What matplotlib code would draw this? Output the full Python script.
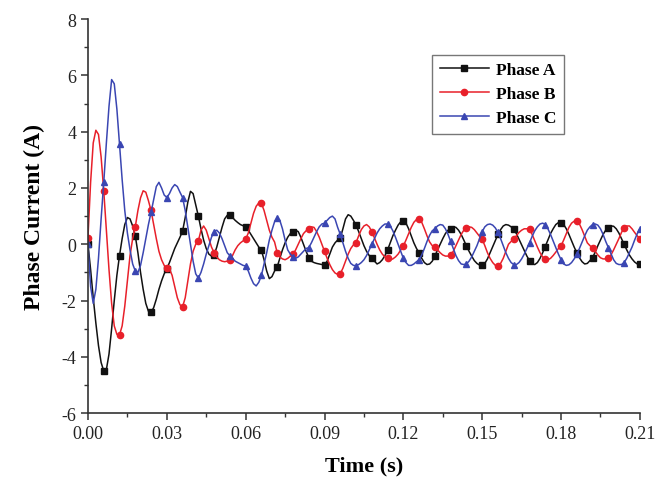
import numpy as np
import matplotlib
matplotlib.use("Agg")
import matplotlib.pyplot as plt
from matplotlib.ticker import MultipleLocator, FormatStrFormatter

# time axis: one sample per millisecond, 0 .. 210 ms
time_ms = np.arange(0, 211)

phase_a = [
    0.0, -0.9, -1.9, -2.8, -3.6, -4.2, -4.5, -4.45, -3.9, -3.0,
    -2.0, -1.1, -0.4, 0.2, 0.7, 0.95, 0.9, 0.65, 0.3, -0.3,
    -1.0, -1.6, -2.1, -2.38, -2.42, -2.25, -1.95, -1.6, -1.3, -1.05,
    -0.87, -0.65, -0.4, -0.15, 0.05, 0.25, 0.47, 0.95, 1.5, 1.88,
    1.8, 1.4, 1.0, 0.55, 0.15, -0.15, -0.35, -0.42, -0.38, -0.1,
    0.25, 0.6, 0.9, 1.03, 1.03, 0.95, 0.85, 0.77, 0.7, 0.66,
    0.62, 0.5, 0.35, 0.2, 0.05, -0.1, -0.22, -0.55, -0.95, -1.22,
    -1.15, -0.95, -0.8, -0.5, -0.2, 0.05, 0.25, 0.38, 0.42, 0.5,
    0.45, 0.25, 0.0, -0.25, -0.47, -0.6, -0.65, -0.68, -0.7, -0.72,
    -0.73, -0.6, -0.35, -0.1, 0.05, 0.15, 0.22, 0.55, 0.9, 1.05,
    1.0, 0.85, 0.68, 0.45, 0.2, -0.05, -0.25, -0.4, -0.48, -0.6,
    -0.7, -0.65, -0.55, -0.4, -0.2, 0.05, 0.3, 0.5, 0.68, 0.8,
    0.83, 0.75, 0.55, 0.3, 0.05, -0.15, -0.3, -0.5, -0.65, -0.72,
    -0.7, -0.6, -0.42, -0.2, 0.0, 0.2, 0.38, 0.5, 0.56, 0.62,
    0.6, 0.5, 0.35, 0.15, -0.06, -0.25, -0.42, -0.58, -0.68, -0.74,
    -0.75, -0.68, -0.52, -0.3, -0.08, 0.15, 0.35, 0.52, 0.65, 0.7,
    0.68, 0.62, 0.53, 0.38, 0.18, -0.02, -0.22, -0.42, -0.58, -0.7,
    -0.72, -0.65, -0.5, -0.3, -0.08, 0.15, 0.38, 0.55, 0.7, 0.77,
    0.77, 0.7, 0.55, 0.35, 0.12, -0.1, -0.3, -0.48, -0.62, -0.7,
    -0.68, -0.58, -0.47, -0.28, -0.05, 0.15, 0.35, 0.5, 0.59, 0.65,
    0.64, 0.55, 0.4, 0.2, 0.0, -0.2, -0.38, -0.52, -0.63, -0.7,
    -0.71,
]

phase_b = [
    0.24, 2.2, 3.6, 4.05, 3.9, 3.1, 1.9, 0.5, -0.9, -2.1,
    -2.9, -3.2, -3.22, -2.9, -2.2, -1.3, -0.4, 0.2, 0.62, 1.2,
    1.65, 1.9, 1.85, 1.55, 1.2, 0.7, 0.2, -0.25, -0.55, -0.75,
    -0.86, -0.88, -1.1, -1.5, -1.9, -2.15, -2.22, -1.9, -1.3, -0.7,
    -0.25, 0.0, 0.12, 0.5, 0.65, 0.5, 0.2, -0.1, -0.3, -0.45,
    -0.55, -0.6, -0.62, -0.6, -0.55, -0.4, -0.2, -0.05, 0.05, 0.12,
    0.18, 0.4, 0.75, 1.1, 1.35, 1.47, 1.45, 1.2, 0.85, 0.5,
    0.25, 0.08, -0.3, -0.45, -0.52, -0.55, -0.5, -0.42, -0.36, -0.2,
    0.0, 0.2, 0.38, 0.48, 0.55, 0.62, 0.6, 0.45, 0.25, 0.0,
    -0.24, -0.5, -0.72, -0.9, -1.02, -1.07, -1.05, -0.85, -0.6, -0.35,
    -0.15, -0.02, 0.06, 0.3, 0.52, 0.65, 0.7, 0.62, 0.45, 0.22,
    0.0, -0.2, -0.35, -0.45, -0.5, -0.55, -0.52, -0.45, -0.35, -0.2,
    -0.06, 0.15, 0.38, 0.6, 0.78, 0.88, 0.89, 0.78, 0.55, 0.3,
    0.08, -0.05, -0.1, -0.2, -0.3, -0.38, -0.42, -0.42, -0.38, -0.25,
    -0.05, 0.15, 0.35, 0.5, 0.59, 0.62, 0.6, 0.52, 0.4, 0.28,
    0.18, -0.05, -0.3, -0.5, -0.65, -0.75, -0.77, -0.68, -0.5, -0.25,
    0.0, 0.1, 0.18, 0.3, 0.42, 0.5, 0.55, 0.55, 0.53, 0.35,
    0.12, -0.1, -0.3, -0.45, -0.53, -0.55, -0.5, -0.4, -0.28, -0.15,
    -0.06, 0.15, 0.38, 0.6, 0.75, 0.82, 0.83, 0.72, 0.52, 0.28,
    0.05, -0.05, -0.12, -0.25, -0.38, -0.48, -0.52, -0.52, -0.5, -0.38,
    -0.2, 0.0, 0.2, 0.42, 0.59, 0.65, 0.65, 0.55, 0.42, 0.3,
    0.2,
]

phase_c = [
    0.0, -1.5, -2.1, -1.6, -0.5, 0.9, 2.2, 3.6, 4.9, 5.85,
    5.7, 4.8, 3.55, 2.3, 1.2, 0.4, -0.2, -0.7, -0.95, -1.0,
    -0.75, -0.3, 0.2, 0.7, 1.13, 1.6, 2.05, 2.2, 2.0, 1.75,
    1.66, 1.8, 2.0, 2.12, 2.05, 1.85, 1.66, 1.2, 0.6, 0.0,
    -0.6, -1.05, -1.2, -1.0, -0.7, -0.35, -0.05, 0.25, 0.45, 0.5,
    0.4, 0.2, -0.05, -0.3, -0.41, -0.5, -0.6, -0.65, -0.7, -0.75,
    -0.77, -0.95, -1.2, -1.4, -1.48, -1.35, -1.1, -0.7, -0.3, 0.15,
    0.5, 0.8, 0.92, 0.85, 0.55, 0.15, -0.2, -0.35, -0.45, -0.5,
    -0.45, -0.35, -0.25, -0.15, -0.12, 0.05, 0.25, 0.45, 0.62, 0.72,
    0.75, 0.85, 0.95, 1.0, 0.9, 0.6, 0.35, 0.05, -0.25, -0.5,
    -0.68, -0.75, -0.76, -0.72, -0.65, -0.55, -0.4, -0.2, 0.0, 0.2,
    0.4, 0.55, 0.65, 0.72, 0.72, 0.65, 0.48, 0.25, 0.0, -0.25,
    -0.5, -0.65, -0.75, -0.75, -0.7, -0.62, -0.55, -0.38, -0.15, 0.1,
    0.32, 0.48, 0.55, 0.65, 0.7, 0.68, 0.55, 0.35, 0.1, -0.15,
    -0.4, -0.58, -0.7, -0.72, -0.7, -0.6, -0.45, -0.25, -0.05, 0.2,
    0.45, 0.62, 0.7, 0.72, 0.68, 0.58, 0.42, 0.2, -0.05, -0.3,
    -0.5, -0.65, -0.72, -0.72, -0.65, -0.52, -0.35, -0.15, 0.05, 0.28,
    0.48, 0.62, 0.72, 0.75, 0.7, 0.55, 0.35, 0.12, -0.12, -0.35,
    -0.55, -0.7, -0.75, -0.73, -0.65, -0.52, -0.35, -0.15, 0.08, 0.3,
    0.5, 0.62, 0.7, 0.72, 0.68, 0.55, 0.35, 0.1, -0.12, -0.35,
    -0.55, -0.68, -0.72, -0.72, -0.65, -0.5, -0.3, -0.1, 0.15, 0.38,
    0.55,
]

series_names = ["Phase A", "Phase B", "Phase C"]
series_colors = ["#111111", "#e8202a", "#3a46b2"]
series_markers = ["s", "o", "^"]

plt.rcParams["font.family"] = "Liberation Serif"
plt.rcParams["axes.unicode_minus"] = False

fig = plt.figure(figsize=(6.59, 4.89), dpi=100)
ax = fig.add_axes([0.1335, 0.153, 0.8375, 0.806])

t = time_ms / 1000.0
for vals, name, col, mk in zip([phase_a, phase_b, phase_c], series_names,
                               series_colors, series_markers):
    ax.plot(t, vals, color=col, lw=1.1, marker=mk, markevery=6,
            markersize=4.5, label=name)

ax.set_xlim(0, 0.21)
ax.set_ylim(-6, 8)
ax.xaxis.set_major_locator(MultipleLocator(0.03))
ax.xaxis.set_minor_locator(MultipleLocator(0.015))
ax.xaxis.set_major_formatter(FormatStrFormatter("%.2f"))
ax.yaxis.set_major_locator(MultipleLocator(2))
ax.yaxis.set_minor_locator(MultipleLocator(1))

for side in ["top", "right"]:
    ax.spines[side].set_visible(False)
for side in ["left", "bottom"]:
    ax.spines[side].set_linewidth(1.2)
    ax.spines[side].set_color("#333333")

ax.tick_params(which="major", direction="out", length=5, width=1.1,
               labelsize=13, colors="#333333", labelcolor="#222222")
ax.tick_params(which="minor", direction="out", length=3, width=1.0,
               colors="#333333")

ax.set_xlabel("Time (s)", fontsize=16, fontweight="bold", labelpad=10)
ax.set_ylabel("Phase Current (A)", fontsize=17, fontweight="bold", labelpad=12)

leg = ax.legend(loc="upper right", bbox_to_anchor=(0.878, 0.932),
                prop={"weight": "bold", "size": 12.5}, handlelength=2.8,
                frameon=True, fancybox=False, borderpad=0.45,
                labelspacing=0.45, handletextpad=0.4)
leg.get_frame().set_edgecolor("#555555")
leg.get_frame().set_linewidth(1.0)

fig.savefig("out.png", dpi=100)
